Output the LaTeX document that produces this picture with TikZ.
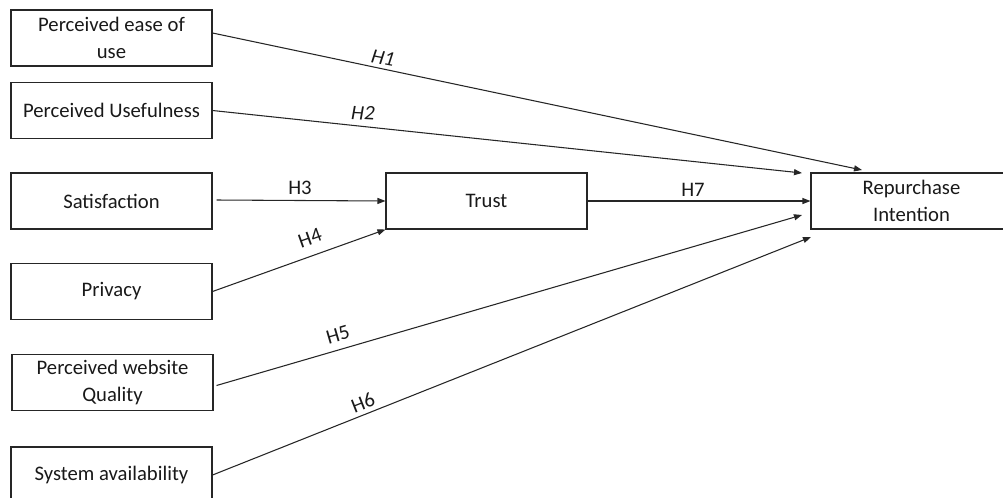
\documentclass[tikz,border=0pt]{standalone}
\usepackage{fontspec}
\setmainfont{Carlito}
\usetikzlibrary{arrows.meta,calc}
\begin{document}
\begin{tikzpicture}[x=0.75pt,y=-0.75pt,
  box/.style={draw=black!85,line width=0.8pt,minimum width=150.75pt,minimum height=42pt,
    inner sep=0pt,align=center,font=\fontsize{15.5}{20}\selectfont,text=black!90},
  conn/.style={draw=black!85,line width=0.8pt,-{Triangle[length=6pt,width=4.5pt]}},
  hlab/.style={font=\fontsize{15.5}{18}\selectfont,text=black!90,inner sep=0pt}]
\useasboundingbox (0,0) rectangle (1003,497);
\node[box] (b1) at (111.5,38) {Perceived ease of\\use};
\node[box] (b2) at (111.5,110.5) {Perceived Usefulness};
\node[box] (b3) at (111.5,201) {Satisfaction};
\node[box] (b4) at (111.5,291.5) {Privacy};
\node[box] (b5) at (112.5,382.5) {Perceived website\\Quality};
\node[box] (b6) at (111.5,475) {System availability};
\node[box] (trust) at (486.5,201) {Trust};
\node[box] (rp) at (911.5,201) {Repurchase\\Intention};
\coordinate (t1) at (862,170);
\coordinate (t2) at (802,173);
\coordinate (t5) at (802,215);
\coordinate (t6) at (811,237);
\draw[conn] ($(b1.east)+(0,-5)$) -- (t1);
\draw[conn] (b2.east) -- (t2);
\draw[conn] ($(b3.east)+(4,-1)$) -- (trust.west);
\draw[conn] (b4.east) -- (trust.south west);
\draw[conn] (trust.east) -- (rp.west);
\draw[conn] ($(b5.east)+(3,3)$) -- (t5);
\draw[conn] (b6.east) -- (t6);
\node[hlab,rotate=-11,font=\fontsize{15.5}{18}\selectfont\itshape] (l1) at (383,58) {H1};
\node[hlab,rotate=-3,font=\fontsize{15.5}{18}\selectfont\itshape] (l2) at (363,113) {H2};
\node[hlab] (l3) at (300,188) {H3};
\node[hlab,rotate=19.6] (l4) at (310,238) {H4};
\node[hlab,rotate=16.3] (l5) at (338,335) {H5};
\node[hlab,rotate=21.6] (l6) at (363,403) {H6};
\node[hlab] (l7) at (693,190) {H7};
\end{tikzpicture}
\end{document}
